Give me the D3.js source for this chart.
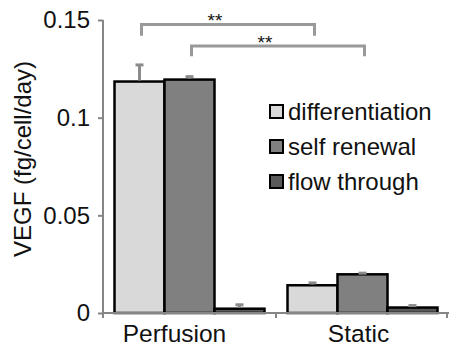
<!DOCTYPE html>
<html>
<head>
<meta charset="utf-8">
<script src="https://cdnjs.cloudflare.com/ajax/libs/d3/7.8.5/d3.min.js"></script>
<style>
  body { margin: 0; background: #fff; }
  text { font-family: "Liberation Sans", Arial, sans-serif; fill: #111; }
</style>
</head>
<body>
<script>
var width = 449,
    height = 350;

// data
var groups = ['Perfusion', 'Static'];
var groupLabelShift = [-15, -4];
var seriesNames = ['differentiation', 'self renewal', 'flow through'];
var seriesColors = ['#d9d9d9', '#808080', '#595959'];
var perfusionVals = [0.1185, 0.1195, 0.0022];
var perfusionErr = [0.0085, 0.0015, 0.0020];
var staticVals = [0.0142, 0.0198, 0.0028];
var staticErr = [0.0012, 0.0006, 0.0010];
var yTicks = [0, 0.05, 0.1, 0.15];
var yTickLabels = ['0', '0.05', '0.1', '0.15'];

// significance brackets: [group, series] at each end, height in data units
var brackets = [
    { from: ['Perfusion', 'differentiation'], to: ['Static', 'differentiation'], level: 0.1477, drop: 0.0058, label: '**' },
    { from: ['Perfusion', 'self renewal'], to: ['Static', 'self renewal'], level: 0.1367, drop: 0.0052, label: '**' }
];

var rows = [];
groups.forEach(function(g, gi) {
    var vals = gi === 0 ? perfusionVals : staticVals;
    var errs = gi === 0 ? perfusionErr : staticErr;
    seriesNames.forEach(function(s, si) {
        rows.push({ group: g, series: s, value: vals[si], err: errs[si], color: seriesColors[si] });
    });
});

var svg = d3.select('body')
    .append('svg')
    .attr('width', width)
    .attr('height', height);

var x0 = d3.scaleBand()
    .domain(groups)
    .range([103, 449])
    .paddingInner(0.133)
    .paddingOuter(0.0665);

var x1 = d3.scaleBand()
    .domain(seriesNames)
    .range([0, x0.bandwidth()]);

var y = d3.scaleLinear()
    .domain([0, 0.15])
    .range([313, 20]);

var axisColor = '#868686';

// bars
svg.append('g')
    .selectAll('rect')
    .data(rows)
    .enter()
    .append('rect')
    .attr('x', function(d) { return x0(d.group) + x1(d.series); })
    .attr('y', function(d) { return y(d.value); })
    .attr('width', x1.bandwidth())
    .attr('height', function(d) { return y(0) - y(d.value); })
    .style('fill', function(d) { return d.color; })
    .style('stroke', '#000')
    .style('stroke-width', 2.5);

// error bars (upper only)
var eb = svg.append('g')
    .selectAll('g')
    .data(rows)
    .enter()
    .append('g')
    .attr('transform', function(d) {
        return 'translate(' + (x0(d.group) + x1(d.series) + x1.bandwidth() / 2) + ',0)';
    });

eb.append('line')
    .attr('y1', function(d) { return y(d.value) - 1; })
    .attr('y2', function(d) { return y(d.value + d.err); })
    .style('stroke', '#8c8c8c')
    .style('stroke-width', 3);

eb.append('line')
    .attr('x1', -4)
    .attr('x2', 4)
    .attr('y1', function(d) { return y(d.value + d.err); })
    .attr('y2', function(d) { return y(d.value + d.err); })
    .style('stroke', '#8c8c8c')
    .style('stroke-width', 3);

// y axis
var yAxis = d3.axisLeft(y)
    .tickValues(yTicks)
    .tickSize(5)
    .tickPadding(8)
    .tickFormat(function(d, i) { return yTickLabels[i]; });

var gy = svg.append('g')
    .attr('transform', 'translate(103,0)')
    .call(yAxis);

gy.select('.domain')
    .attr('d', 'M0,' + y(0.15) + 'H0V' + (y(0) + 5))
    .style('stroke', axisColor)
    .style('stroke-width', 2);
gy.selectAll('.tick line').style('stroke', axisColor).style('stroke-width', 2);
gy.selectAll('.tick text')
    .style('font-size', '24px')
    .style('font-family', '"Liberation Sans", Arial, sans-serif')
    .style('fill', '#111');

// x axis
var step = x0.step();
var bounds = d3.range(groups.length + 1).map(function(i) {
    return 103 + i * step;
});

svg.append('line')
    .attr('x1', 103)
    .attr('x2', 449)
    .attr('y1', y(0))
    .attr('y2', y(0))
    .style('stroke', axisColor)
    .style('stroke-width', 2);

svg.append('g')
    .selectAll('line')
    .data(bounds.slice(1))
    .enter()
    .append('line')
    .attr('x1', function(d) { return Math.min(d, 447); })
    .attr('x2', function(d) { return Math.min(d, 447); })
    .attr('y1', y(0))
    .attr('y2', y(0) + 5)
    .style('stroke', axisColor)
    .style('stroke-width', 2);

svg.append('g')
    .selectAll('text')
    .data(groups)
    .enter()
    .append('text')
    .attr('x', function(d, i) { return x0(d) + x0.bandwidth() / 2 + groupLabelShift[i]; })
    .attr('y', 342)
    .attr('text-anchor', 'middle')
    .style('font-size', '24.5px')
    .text(function(d) { return d; });

// y title
svg.append('text')
    .attr('transform', 'translate(31,159) rotate(-90)')
    .attr('text-anchor', 'middle')
    .style('font-size', '24px')
    .text('VEGF (fg/cell/day)');

// brackets
var bx = function(p) { return x0(p[0]) + x1(p[1]) + x1.bandwidth() / 2 + 2; };

var br = svg.append('g')
    .selectAll('g')
    .data(brackets)
    .enter()
    .append('g');

br.append('path')
    .attr('d', function(d) {
        var a = bx(d.from), b = bx(d.to);
        return 'M' + a + ',' + y(d.level - d.drop) + 'V' + y(d.level) + 'H' + b + 'V' + y(d.level - d.drop);
    })
    .style('fill', 'none')
    .style('stroke', '#999')
    .style('stroke-width', 3);

br.append('text')
    .attr('x', function(d) { return (bx(d.from) + bx(d.to)) / 2 - 13; })
    .attr('y', function(d) { return y(d.level) + 3; })
    .attr('text-anchor', 'middle')
    .style('font-size', '19px')
    .text(function(d) { return d.label; });

// legend
var legend = svg.append('g')
    .selectAll('g')
    .data(seriesNames)
    .enter()
    .append('g')
    .attr('transform', function(d, i) { return 'translate(270,' + (105 + i * 35) + ')'; });

legend.append('rect')
    .attr('width', 13)
    .attr('height', 13)
    .style('fill', function(d, i) { return seriesColors[i]; })
    .style('stroke', '#000')
    .style('stroke-width', 2);

legend.append('text')
    .attr('x', 18)
    .attr('y', 15)
    .style('font-size', '24px')
    .text(function(d) { return d; });
</script>
</body>
</html>
